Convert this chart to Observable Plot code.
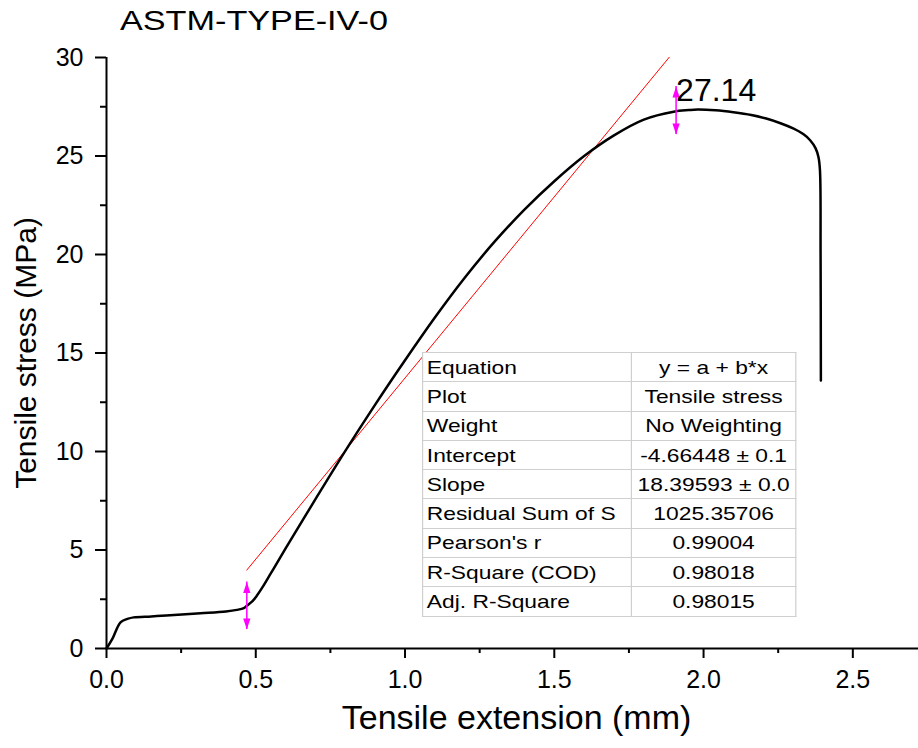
<!DOCTYPE html>
<html>
<head>
<meta charset="utf-8">
<script src="https://cdn.jsdelivr.net/npm/d3@7"></script>
<script src="https://cdn.jsdelivr.net/npm/@observablehq/plot@0.6"></script>
<style>
  html, body { margin: 0; padding: 0; background: #fff; }
  #wrap { position: relative; width: 918px; height: 748px; overflow: hidden; font-family: "Liberation Sans", Arial, sans-serif; }
  #chart { position: absolute; left: 0; top: 0; }
  #title { position: absolute; left: 120px; top: 6px; font-size: 28.5px; line-height: 28px; color: #000; white-space: nowrap; transform: scaleX(1.2); transform-origin: 0 0; }
  #fit { position: absolute; left: 422px; top: 352px; width: 312px; transform: scaleX(1.2); transform-origin: 0 0; }
  #fit table { border-collapse: collapse; width: 100%; border: 1.6px solid #333; font-size: 19px; color: #000; background: #fff; }
  #fit td { height: 28.3px; padding: 0 0 0 3px; border: 1px solid #cfcfcf; white-space: nowrap; vertical-align: middle; line-height: 19px; }
  #fit td.k { width: 170px; text-align: left; }
  #fit td.v { text-align: center; padding: 0; }
</style>
</head>
<body>
<div id="wrap">
  <div id="chart"></div>
  <div id="title"></div>
  <div id="fit"></div>
</div>
<script>
// ---- chart data ----
const chartTitle = "ASTM-TYPE-IV-0";
const xLabel = "Tensile extension (mm)";
const yLabel = "Tensile stress (MPa)";

const extension = [0, 0.02, 0.047, 0.07, 0.091, 0.15, 0.2, 0.315, 0.4, 0.437, 0.46, 0.471, 0.49, 0.504, 0.52, 0.54, 0.56, 0.6, 0.7, 0.8, 0.9, 1.0, 1.1, 1.2, 1.3, 1.4, 1.5, 1.6, 1.7, 1.8, 1.9, 1.95, 1.98, 2.04, 2.1, 2.16, 2.21, 2.26, 2.3, 2.335, 2.357, 2.375, 2.385, 2.39, 2.392, 2.393];
const stress    = [0, 0.5, 1.33, 1.5, 1.58, 1.63, 1.68, 1.79, 1.88, 1.96, 2.05, 2.18, 2.42, 2.69, 3.05, 3.55, 4.06, 5.08, 7.58, 10.03, 12.38, 14.63, 16.8, 18.82, 20.65, 22.28, 23.72, 25.0, 26.05, 26.85, 27.25, 27.33, 27.36, 27.32, 27.22, 27.08, 26.9, 26.65, 26.4, 26.1, 25.8, 25.4, 24.94, 24.26, 20.0, 13.6];

const fitIntercept = -4.66448;
const fitSlope = 18.39593;
const fitExtent = [0.47, 1.885];

const arrowX    = [0.47, 1.908];
const arrowLow  = [0.97, 26.09];
const arrowHigh = [3.38, 28.53];

const peakText = "27.14";
const peakX = 1.908;
const peakY = 28.32;

const xMajor = [0, 0.5, 1.0, 1.5, 2.0, 2.5];
const xMinor = [0.25, 0.75, 1.25, 1.75, 2.25];
const yMajor = [0, 5, 10, 15, 20, 25, 30];
const yMinor = [2.5, 7.5, 12.5, 17.5, 22.5, 27.5];

const tableKeys = ["Equation", "Plot", "Weight", "Intercept", "Slope", "Residual Sum of S", "Pearson's r", "R-Square (COD)", "Adj. R-Square"];
const tableValues = ["y = a + b*x", "Tensile stress", "No Weighting", "-4.66448 ± 0.1", "18.39593 ± 0.0", "1025.35706", "0.99004", "0.98018", "0.98015"];

// ---- derived tables ----
const curve = extension.map((x, i) => ({x, y: stress[i]}));
const fitLine = fitExtent.map(x => ({x, y: fitIntercept + fitSlope * x}));
const arrows = arrowX.map((x, i) => ({x, lo: arrowLow[i], hi: arrowHigh[i]}));

const headUp = {draw(ctx) { ctx.moveTo(0, 0); ctx.lineTo(-3.6, 11); ctx.lineTo(3.6, 11); ctx.closePath(); }};
const headDown = {draw(ctx) { ctx.moveTo(0, 0); ctx.lineTo(-3.6, -11); ctx.lineTo(3.6, -11); ctx.closePath(); }};
const magenta = "#ff00ff";

const plot = Plot.plot({
  width: 918,
  height: 748,
  marginTop: 57,
  marginLeft: 106,
  marginRight: 0,
  marginBottom: 100,
  style: {fontFamily: "'Liberation Sans', Arial, sans-serif", fontSize: "25px", color: "#000", background: "#fff", overflow: "visible"},
  x: {domain: [0, 2.72], axis: null},
  y: {domain: [0, 30], axis: null},
  marks: [
    Plot.axisX({ticks: xMajor, tickSize: 10, tickPadding: 12, tickFormat: d => d.toFixed(1), strokeWidth: 2, fontSize: 25, label: null}),
    Plot.axisX({ticks: xMinor, tickSize: 5, tickFormat: () => "", strokeWidth: 2, label: null}),
    Plot.axisY({ticks: yMajor, tickSize: 11, tickPadding: 12, tickFormat: d => String(d), strokeWidth: 2, fontSize: 25, label: null}),
    Plot.axisY({ticks: yMinor, tickSize: 6, tickFormat: () => "", strokeWidth: 2, label: null}),
    Plot.ruleX([0], {stroke: "#000", strokeWidth: 2}),
    Plot.ruleY([0], {stroke: "#000", strokeWidth: 2}),
    Plot.line(fitLine, {x: "x", y: "y", stroke: "#ff0000", strokeWidth: 1}),
    Plot.line(curve, {x: "x", y: "y", stroke: "#000", strokeWidth: 2.5, curve: "catmull-rom"}),
    Plot.ruleX(arrows, {x: "x", y1: "lo", y2: "hi", stroke: magenta, strokeWidth: 1.5}),
    Plot.dot(arrows, {x: "x", y: "hi", symbol: headUp, fill: magenta, stroke: "none"}),
    Plot.dot(arrows, {x: "x", y: "lo", symbol: headDown, fill: magenta, stroke: "none"}),
    Plot.text([{x: peakX, y: peakY, t: peakText}], {x: "x", y: "y", text: "t", textAnchor: "start", fontSize: 32, fill: "#000"}),
    Plot.text([xLabel], {frameAnchor: "bottom", textAnchor: "middle", dy: 80, dx: 4, fontSize: 34, fill: "#000"}),
    Plot.text([yLabel], {frameAnchor: "left", textAnchor: "middle", rotate: -90, dx: -80, fontSize: 30, fill: "#000"})
  ]
});
document.getElementById("chart").appendChild(plot);
document.getElementById("title").textContent = chartTitle;

const table = document.createElement("table");
tableKeys.forEach((k, i) => {
  const tr = document.createElement("tr");
  const a = document.createElement("td"); a.className = "k"; a.textContent = k;
  const b = document.createElement("td"); b.className = "v"; b.textContent = tableValues[i];
  tr.appendChild(a); tr.appendChild(b); table.appendChild(tr);
});
document.getElementById("fit").appendChild(table);
</script>
</body>
</html>
